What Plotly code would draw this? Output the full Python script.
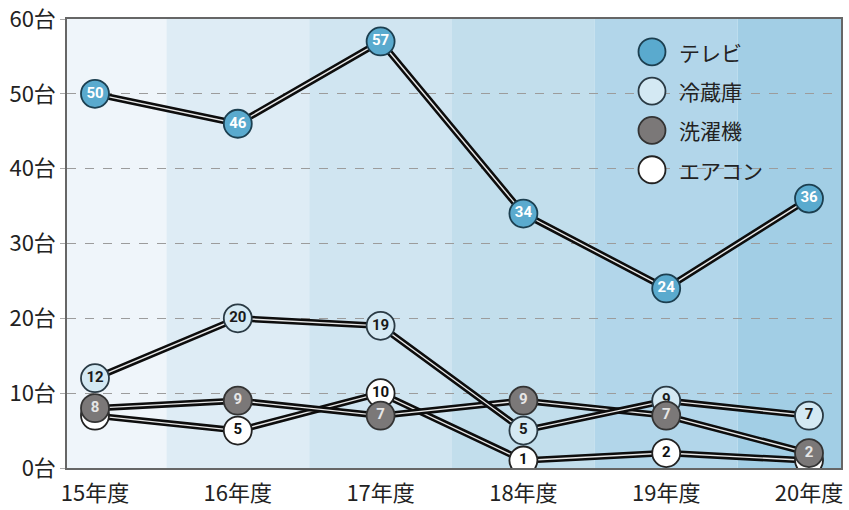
import plotly.graph_objects as go

years = ["15年度", "16年度", "17年度", "18年度", "19年度", "20年度"]
series_names = ["テレビ", "冷蔵庫", "洗濯機", "エアコン"]
tv = [50, 46, 57, 34, 24, 36]
fridge = [12, 20, 19, 5, 9, 7]
washer = [8, 9, 7, 9, 7, 2]
aircon = [7, 5, 10, 1, 2, 1]
y_ticks = [0, 10, 20, 30, 40, 50, 60]
y_tick_text = [f"{v}台" for v in y_ticks]

values = [tv, fridge, washer, aircon]
fills = ["#5aaace", "#d4e9f3", "#7b7878", "#ffffff"]
outlines = ["#1c3f50", "#2a3a44", "#333333", "#222222"]
text_colors = ["#ffffff", "#1a1a1a", "#e6e6e6", "#111111"]
band_colors = ["#eff5fa", "#deecf5", "#d0e5f1", "#c2deec", "#b2d6ea", "#a2cee5"]

fig = go.Figure()

# lines (black with thin white centre)
for vals in [aircon, washer, fridge, tv]:
    fig.add_trace(go.Scatter(x=years, y=vals, mode="lines",
                             line=dict(color="#0d0d0d", width=6.5),
                             hoverinfo="skip", showlegend=False))
    fig.add_trace(go.Scatter(x=years, y=vals, mode="lines",
                             line=dict(color="#e8e8e8", width=1.4),
                             hoverinfo="skip", showlegend=False))

# markers with labels
for idx in [1, 3, 2, 0]:
    vals = values[idx]
    fig.add_trace(go.Scatter(
        x=years, y=vals, mode="markers+text",
        name=series_names[idx],
        text=[str(v) for v in vals], textposition="middle center",
        textfont=dict(family="Roboto, sans-serif", size=15, color=text_colors[idx], weight="bold"),
        marker=dict(size=28, color=fills[idx], line=dict(color=outlines[idx], width=1.8)),
        showlegend=False))

shapes = []
for i, c in enumerate(band_colors):
    shapes.append(dict(type="rect", xref="x", yref="paper", x0=i - 0.5, x1=i + 0.5,
                       y0=0, y1=1, fillcolor=c, line=dict(width=0), layer="below"))

annotations = []
legend_x = 0.7558
legend_y0 = 0.927
legend_step = 0.0876
for i, name in enumerate(series_names):
    ly = legend_y0 - i * legend_step
    shapes.append(dict(type="circle", xref="paper", yref="paper",
                       xsizemode="pixel", ysizemode="pixel",
                       xanchor=legend_x, yanchor=ly,
                       x0=-13.5, x1=13.5, y0=-13.5, y1=13.5,
                       fillcolor=fills[i], line=dict(color=outlines[i], width=1.8),
                       layer="above"))
    annotations.append(dict(xref="paper", yref="paper", x=legend_x + 0.032, y=ly,
                            text=name, showarrow=False, xanchor="left", yanchor="middle",
                            font=dict(family="Noto Sans CJK JP", size=21, color="#222222")))

fig.update_layout(
    width=849, height=510,
    margin=dict(l=67, r=8, t=19, b=42),
    paper_bgcolor="#ffffff", plot_bgcolor="#ffffff",
    shapes=shapes, annotations=annotations,
    showlegend=False,
    font=dict(family="Noto Sans CJK JP", size=22, color="#222222"),
)
fig.update_xaxes(range=[-0.196, 5.224], showgrid=False, showline=True, mirror=True,
                 linecolor="#666666", linewidth=1.5, ticks="", ticklabelstandoff=5,
                 automargin=False, ticklabeloverflow="allow",
                 tickfont=dict(family="Noto Sans CJK JP", size=22, color="#222222"))
fig.update_yaxes(range=[0, 60], tickvals=y_ticks, ticktext=y_tick_text,
                 showgrid=True, gridcolor="#9c9c9c", griddash="dash", gridwidth=1,
                 zeroline=False, showline=True, mirror=True,
                 linecolor="#666666", linewidth=1.5, automargin=False,
                 ticklabeloverflow="allow",
                 ticks="outside", ticklen=5, tickcolor="#aaaaaa",
                 tickfont=dict(family="Noto Sans CJK JP", size=22, color="#222222"))

# remove the page's default 8px body margin so the figure fills the window exactly
fig.write_html("out.html", config={"displayModeBar": False},
               post_script="document.body.style.margin='0';")
